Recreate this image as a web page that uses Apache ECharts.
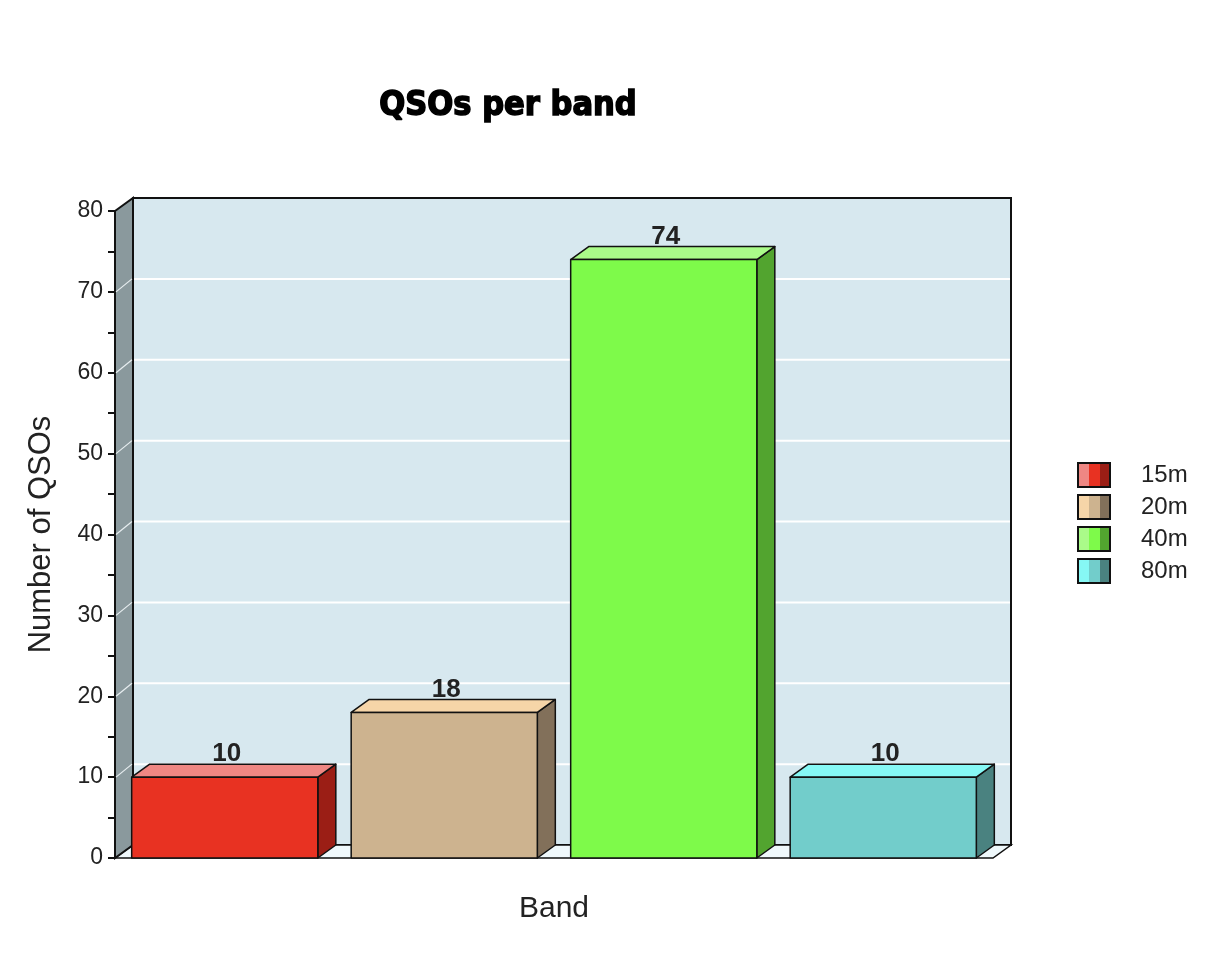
<!DOCTYPE html>
<html>
<head>
<meta charset="utf-8">
<script src="https://cdn.jsdelivr.net/npm/echarts@6/dist/echarts.min.js"></script>
<style>html,body{margin:0;padding:0;background:#fff}#c{width:1231px;height:954px}</style>
</head>
<body>
<div id="c"></div>
<script>
const categories = ['15m', '20m', '40m', '80m'];
const values = [10, 18, 74, 10];
const yTicks = [0, 10, 20, 30, 40, 50, 60, 70, 80];
const frontColors = ['#E83222', '#CDB38F', '#7EFA4A', '#72CDCB'];
const topColors = ['#EF8783', '#F6D5A8', '#AAFB89', '#86F8F5'];
const sideColors = ['#9B1E15', '#82705A', '#52A42F', '#4A8280'];

const DX = 18, DY = -13;
const FONT = "'Liberation Sans', Arial, sans-serif";

function legendIcon(i) {
  const svg = '<svg xmlns="http://www.w3.org/2000/svg" width="59" height="26" viewBox="0 0 59 26">' +
    '<rect x="1" y="1" width="11" height="24" fill="' + topColors[i] + '"/>' +
    '<rect x="12" y="1" width="11" height="24" fill="' + frontColors[i] + '"/>' +
    '<rect x="23" y="1" width="10" height="24" fill="' + sideColors[i] + '"/>' +
    '<rect x="1" y="1" width="32" height="24" fill="none" stroke="#111" stroke-width="2"/>' +
    '</svg>';
  return 'image://data:image/svg+xml;charset=utf-8,' + encodeURIComponent(svg);
}

function frameRender(params, api) {
  const cs = params.coordSys;
  const L = cs.x, T = cs.y, R = cs.x + cs.width, B = cs.y + cs.height;
  const children = [];
  children.push({ type: 'rect', shape: { x: L + DX, y: T + DY, width: cs.width, height: cs.height },
    style: { fill: '#D7E8EF', stroke: '#111', lineWidth: 2 } });
  children.push({ type: 'polygon', shape: { points: [[L, B], [L + DX, B + DY], [R + DX, B + DY], [R, B]] },
    style: { fill: '#EFF8FB', stroke: '#111', lineWidth: 1.5 } });
  children.push({ type: 'polygon', shape: { points: [[L, T], [L + DX, T + DY], [L + DX, B + DY], [L, B]] },
    style: { fill: '#8A999D', stroke: '#111', lineWidth: 2 } });
  yTicks.forEach(function (v) {
    if (v === yTicks[0] || v === yTicks[yTicks.length - 1]) return;
    const y = api.coord([0, v])[1];
    children.push({ type: 'line', shape: { x1: L + DX + 1, y1: y + DY, x2: R + DX - 1, y2: y + DY },
      style: { stroke: '#FFFFFF', lineWidth: 2 } });
    children.push({ type: 'line', shape: { x1: L + 1, y1: y, x2: L + DX - 1, y2: y + DY },
      style: { stroke: '#E8EEF0', lineWidth: 1.2 } });
  });
  return { type: 'group', children: children, silent: true };
}

function barRender(i) {
  return function (params, api) {
    const idx = api.value(0);
    const v = api.value(1);
    const p = api.coord([idx, v]);
    const p0 = api.coord([idx, 0]);
    const hw = api.size([1, 0])[0] * 0.424;
    const x1 = p[0] - hw, x2 = p[0] + hw, yT = p[1], yB = p0[1];
    const st = { stroke: '#111', lineWidth: 1.5, lineJoin: 'round' };
    return { type: 'group', children: [
      { type: 'polygon', shape: { points: [[x2, yT], [x2 + DX, yT + DY], [x2 + DX, yB + DY], [x2, yB]] },
        style: Object.assign({ fill: sideColors[i] }, st) },
      { type: 'polygon', shape: { points: [[x1, yT], [x1 + DX, yT + DY], [x2 + DX, yT + DY], [x2, yT]] },
        style: Object.assign({ fill: topColors[i] }, st) },
      { type: 'rect', shape: { x: x1, y: yT, width: x2 - x1, height: yB - yT },
        style: Object.assign({ fill: frontColors[i] }, st) },
      { type: 'text', style: { x: p[0] + 2, y: yT + DY + 3, text: String(v), textAlign: 'center', textVerticalAlign: 'bottom',
        fill: '#222', font: 'bold 26px ' + FONT } }
    ] };
  };
}

const series = [{
  type: 'custom', name: 'frame', renderItem: frameRender, data: [[0, 0]], z: 1, silent: true, clip: false
}];
categories.forEach(function (c, i) {
  series.push({
    type: 'custom', name: c, renderItem: barRender(i), z: 3, clip: false,
    itemStyle: { color: frontColors[i] },
    data: [[i, values[i]]]
  });
});

const chart = echarts.init(document.getElementById('c'), null, { renderer: 'canvas' });
chart.setOption({
  animation: false,
  backgroundColor: '#ffffff',
  title: {
    text: 'QSOs per band', left: 508, top: 89, textAlign: 'center', padding: 0,
    textStyle: { fontFamily: "'DejaVu Sans Condensed', 'Liberation Sans Narrow', sans-serif", fontWeight: 'bold', fontSize: 34, color: '#000',
      textBorderColor: '#000', textBorderWidth: 1.5 }
  },
  legend: {
    orient: 'vertical', left: 1077, top: 462, padding: 0,
    itemWidth: 59, itemHeight: 26, itemGap: 6,
    textStyle: { fontFamily: FONT, fontSize: 24, color: '#222' },
    data: categories.map(function (c, i) { return { name: c, icon: legendIcon(i) }; })
  },
  grid: { left: 115, right: 238, top: 211, bottom: 96, containLabel: false },
  xAxis: {
    type: 'category', data: categories,
    name: 'Band', nameLocation: 'middle', nameGap: 36,
    nameTextStyle: { fontFamily: FONT, fontSize: 30, color: '#222' },
    axisLine: { show: false }, axisTick: { show: false }, axisLabel: { show: false }, splitLine: { show: false }
  },
  yAxis: {
    type: 'value', min: yTicks[0], max: yTicks[yTicks.length - 1], interval: 10,
    name: 'Number of QSOs', nameLocation: 'middle', nameGap: 58, nameRotate: 90,
    nameTextStyle: { fontFamily: FONT, fontSize: 31, color: '#222' },
    axisLine: { show: true, lineStyle: { color: '#111', width: 2 } },
    axisTick: { show: true, length: 7, lineStyle: { color: '#111', width: 2 } },
    minorTick: { show: true, splitNumber: 2, length: 7, lineStyle: { color: '#111', width: 2 } },
    axisLabel: { margin: 12, fontFamily: FONT, fontSize: 23, color: '#222' },
    splitLine: { show: false }
  },
  series: series
});
</script>
</body>
</html>
